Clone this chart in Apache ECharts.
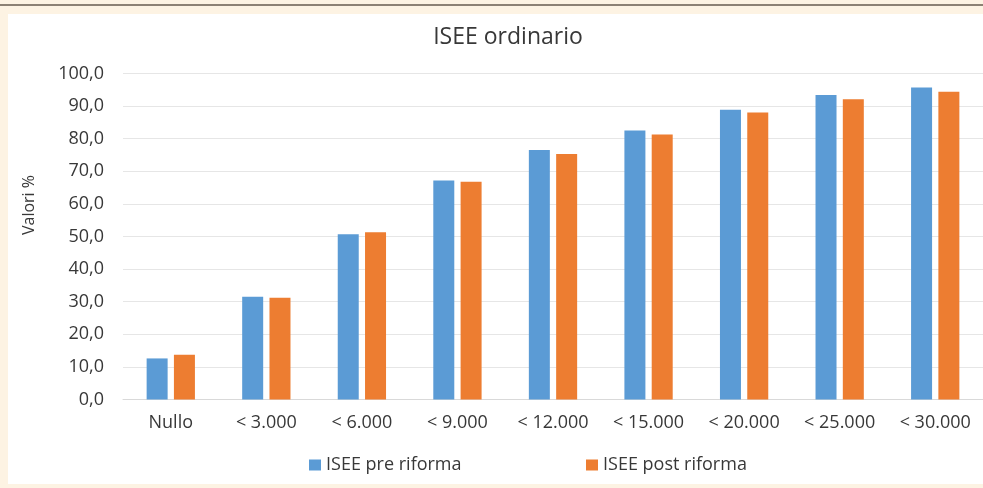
<!DOCTYPE html>
<html>
<head>
<meta charset="utf-8">
<script src="https://cdn.jsdelivr.net/npm/echarts@6/dist/echarts.min.js"></script>
<style>
  html, body {
    margin: 0;
    padding: 0;
    width: 983px;
    height: 488px;
    background: #fdf3e3;
    overflow: hidden;
    position: relative;
  }
  .top-line {
    position: absolute;
    left: 0;
    top: 4px;
    width: 983px;
    height: 2px;
    background: #8c8174;
  }
  #chart {
    position: absolute;
    left: 8px;
    top: 14px;
    width: 975px;
    height: 470px;
    background: #ffffff;
  }
</style>
</head>
<body>
<div class="top-line"></div>
<div id="chart"></div>
<script>
var categories = ['Nullo', '< 3.000', '< 6.000', '< 9.000', '< 12.000', '< 15.000', '< 20.000', '< 25.000', '< 30.000']
var preRiforma = [12.6, 31.5, 50.7, 67.2, 76.5, 82.5, 88.9, 93.4, 95.7]
var postRiforma = [13.7, 31.2, 51.3, 66.8, 75.3, 81.3, 88.0, 92.1, 94.4]
var seriesNames = ['ISEE pre riforma', 'ISEE post riforma']

var font = '"Open Sans", "Noto Sans", sans-serif'
var textColor = '#383838'
var chart = echarts.init(document.getElementById('chart'))

var option = {
  animation: false,
  textStyle: { fontFamily: font },
  title: {
    text: 'ISEE ordinario',
    left: 495,
    top: 7,
    textAlign: 'center',
    textStyle: {
      fontFamily: font,
      fontSize: 23,
      fontWeight: 'normal',
      color: textColor
    }
  },
  legend: [{
    data: [seriesNames[0]],
    left: 296,
    top: 437,
    itemWidth: 12,
    itemHeight: 11,
    icon: 'rect',
    textStyle: { fontFamily: font, fontSize: 18, color: textColor }
  }, {
    data: [seriesNames[1]],
    left: 573,
    top: 437,
    itemWidth: 12,
    itemHeight: 11,
    icon: 'rect',
    textStyle: { fontFamily: font, fontSize: 18, color: textColor }
  }],
  graphic: [{
    type: 'text',
    x: 21,
    y: 191,
    rotation: Math.PI / 2,
    style: {
      text: 'Valori %',
      fontFamily: font,
      fontSize: 16,
      fill: textColor,
      textAlign: 'center',
      textVerticalAlign: 'middle'
    }
  }],
  grid: {
    left: 115,
    top: 59.5,
    width: 867,
    height: 326
  },
  xAxis: {
    type: 'category',
    data: categories,
    axisTick: { show: false },
    axisLine: { lineStyle: { color: '#d9d9d9', width: 1 } },
    axisLabel: {
      interval: 0,
      margin: 14,
      fontFamily: font,
      fontSize: 18,
      color: textColor
    }
  },
  yAxis: {
    type: 'value',
    min: 0,
    max: 100,
    interval: 10,
    axisLine: { show: false },
    axisTick: { show: false },
    axisLabel: {
      margin: 19,
      fontFamily: font,
      fontSize: 18,
      color: textColor,
      formatter: function(v) {
        return v.toFixed(1).replace('.', ',')
      }
    },
    splitLine: { lineStyle: { color: '#e6e6e6', width: 1 } }
  },
  series: [{
    name: seriesNames[0],
    type: 'bar',
    data: preRiforma,
    barWidth: 21,
    barGap: '30%',
    itemStyle: { color: '#5b9bd5' }
  }, {
    name: seriesNames[1],
    type: 'bar',
    data: postRiforma,
    barWidth: 21,
    barGap: '30%',
    itemStyle: { color: '#ed7d31' }
  }]
}

chart.setOption(option)
</script>
</body>
</html>
